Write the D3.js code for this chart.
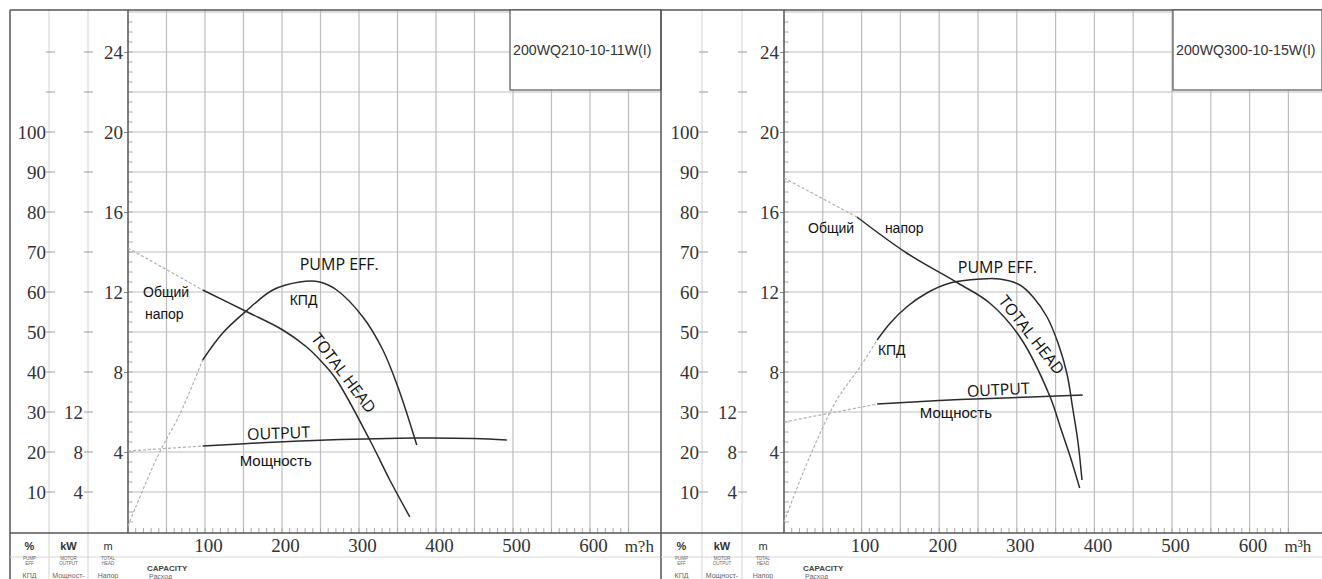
<!DOCTYPE html>
<html>
<head>
<meta charset="utf-8">
<script src="https://cdn.jsdelivr.net/npm/d3@7"></script>
<style>
  body { margin: 0; background: #fff; }
  svg { display: block; }
</style>
</head>
<body>
<script>
// axis labels
const capacityLabels = [100, 200, 300, 400, 500, 600];
const headLabels = [4, 8, 12, 16, 20, 24];
const effLabels = [10, 20, 30, 40, 50, 60, 70, 80, 90, 100];
const powerLabels = [4, 8, 12];

// 200WQ210-10-11W(I)   [Q m3/h, value]
const headDashA = [[0, 14.2], [97, 12.1]];
const headSolidA = [[97, 12.1], [155, 11.0], [201, 10.1], [232, 9.25], [253, 8.45], [271, 7.6], [314, 4.6], [340, 2.6], [366, 0.75]];
const effDashA = [[0, 1.5], [38, 18.75], [68, 29.75], [97, 43]];
const effSolidA = [[97, 43], [123, 49.75], [155, 55.5], [188, 60.5], [223, 62.5], [249, 62.5], [271, 60.5], [305, 53.75], [331, 45.5], [351, 36], [375, 21.75]];
const powerDashA = [[0, 8.1], [97, 8.6]];
const powerSolidA = [[97, 8.6], [180, 8.95], [258, 9.2], [375, 9.4], [450, 9.35], [492, 9.2]];

// 200WQ300-10-15W(I)
const headDashB = [[0, 17.7], [94, 15.75]];
const headSolidB = [[94, 15.75], [158, 13.95], [224, 12.45], [265, 11.45], [304, 9.75], [343, 6.75], [356, 5.25], [369, 3.75], [381, 2.2]];
const effDashB = [[0, 2.5], [33, 18.75], [68, 33], [98, 41.25], [120, 48]];
const effSolidB = [[120, 48], [137, 52.25], [158, 56.25], [184, 59.75], [214, 62.25], [253, 63.25], [278, 63.25], [304, 61.75], [321, 58.75], [339, 53.75], [354, 46.75], [365, 39.25], [372, 31], [379, 22.25], [384, 13]];
const powerDashB = [[0, 11.0], [120, 12.8]];
const powerSolidB = [[120, 12.8], [200, 13.15], [265, 13.35], [385, 13.7]];

const W = 1322, H = 579;
const serif = "'Liberation Serif', 'DejaVu Serif', serif";
const sans = "'Liberation Sans', Arial, sans-serif";
const open = "'Open Sans', 'Liberation Sans', sans-serif";

// [text, Q, head(m), font, size, angle, anchor]
const notesA = [
  ["PUMP EFF.", 223, 13.1, open, 16, 0, "start"],
  ["КПД", 210, 11.35, sans, 14, 0, "start"],
  ["Общий", 19.5, 11.75, sans, 14, 0, "start"],
  ["напор", 22, 10.65, sans, 14, 0, "start"],
  ["OUTPUT", 155, 4.6, open, 16, -2, "start"],
  ["Мощность", 145, 3.3, sans, 15, 0, "start"],
  ["TOTAL HEAD", 280, 7.95, open, 16, 53, "middle"]
];
const notesB = [
  ["Общий", 31, 14.95, sans, 14, 0, "start"],
  ["напор", 130, 14.95, sans, 14, 0, "start"],
  ["PUMP EFF.", 224, 12.95, open, 16, 0, "start"],
  ["КПД", 121, 8.85, sans, 14, 0, "start"],
  ["OUTPUT", 236, 6.75, open, 16, -3, "start"],
  ["Мощность", 175, 5.7, sans, 15, 0, "start"],
  ["TOTAL HEAD", 319, 9.85, open, 16, 52, "middle"]
];

const panels = [
  { frame: 10, pctX: 49, kwX: 88, axisX: 128, k: 0.77, right: 661, boxX: 510,
    title: "200WQ210-10-11W(I)", unit: "m?h",
    head: [headDashA, headSolidA], eff: [effDashA, effSolidA], power: [powerDashA, powerSolidA], notes: notesA },
  { frame: 661, pctX: 702, kwX: 742, axisX: 784, k: 0.776, right: 1322, boxX: 1173,
    title: "200WQ300-10-15W(I)", unit: "m³h",
    head: [headDashB, headSolidB], eff: [effDashB, effSolidB], power: [powerDashB, powerSolidB], notes: notesB }
];

const svg = d3.select("body").append("svg")
    .attr("width", W)
    .attr("height", H)
    .style("background", "#fff");

const yM = d3.scaleLinear().domain([0, 26.1]).range([532, 10]);
const yPct = yM.copy().domain([0, 130.5]);
const yKW = yM.copy().domain([0, 52.2]);

panels.forEach(p => {
  const g = svg.append("g");
  const x = d3.scaleLinear().domain([0, 650]).range([p.axisX, p.axisX + 650 * p.k]);

  // column separators on the left
  g.append("g").selectAll("line").data([p.pctX, p.kwX]).join("line")
      .attr("x1", d => d).attr("x2", d => d)
      .attr("y1", 10).attr("y2", H)
      .attr("stroke", "#d2d2d2");

  // grid
  g.append("g").selectAll("line").data(d3.range(50, 651, 50)).join("line")
      .attr("x1", d => x(d)).attr("x2", d => x(d))
      .attr("y1", 10).attr("y2", 533)
      .attr("stroke", "#bdbdbd").attr("stroke-width", 1.2);
  g.append("g").selectAll("line").data(d3.range(2, 26.1, 2)).join("line")
      .attr("x1", p.axisX).attr("x2", p.right)
      .attr("y1", d => yM(d)).attr("y2", d => yM(d))
      .attr("stroke", "#bdbdbd").attr("stroke-width", 1.2);

  // minor ticks: capacity every 10, head every 0.5
  g.append("g").selectAll("line").data(d3.range(10, 651, 10)).join("line")
      .attr("x1", d => x(d)).attr("x2", d => x(d))
      .attr("y1", 533).attr("y2", 528)
      .attr("stroke", "#aaa");
  g.append("g").selectAll("line").data(d3.range(0.5, 26, 0.5)).join("line")
      .attr("x1", p.axisX).attr("x2", p.axisX + 5)
      .attr("y1", d => yM(d)).attr("y2", d => yM(d))
      .attr("stroke", "#aaa");

  // dashes in the % and kW columns
  g.append("g").selectAll("line").data(d3.range(10, 121, 10)).join("line")
      .attr("x1", p.pctX - 3).attr("x2", p.pctX + 6)
      .attr("y1", d => yPct(d)).attr("y2", d => yPct(d))
      .attr("stroke", "#999");
  g.append("g").selectAll("line").data(d3.range(4, 49, 4)).join("line")
      .attr("x1", p.kwX - 4).attr("x2", p.kwX + 5)
      .attr("y1", d => yKW(d)).attr("y2", d => yKW(d))
      .attr("stroke", "#999");

  const styleAxis = a => {
    a.select(".domain").remove();
    a.selectAll("text").attr("font-family", serif).attr("font-size", 19).attr("fill", "#333");
    a.selectAll("line").attr("stroke", "#888");
  };

  g.append("g").attr("transform", `translate(${p.axisX},0)`)
      .call(d3.axisLeft(yM).tickValues(headLabels).tickSize(4).tickPadding(1))
      .call(styleAxis);
  g.append("g").attr("transform", `translate(${p.pctX - 1},0)`)
      .call(d3.axisLeft(yPct).tickValues(effLabels).tickSize(0).tickPadding(2))
      .call(styleAxis);
  g.append("g").attr("transform", `translate(${p.kwX - 4},0)`)
      .call(d3.axisLeft(yKW).tickValues(powerLabels).tickSize(0).tickPadding(1))
      .call(styleAxis);
  g.append("g").attr("transform", `translate(3,533)`)
      .call(d3.axisBottom(x).tickValues(capacityLabels).tickSize(0).tickPadding(6))
      .call(styleAxis);

  g.append("text")
      .attr("x", x(645)).attr("y", 552)
      .attr("font-family", serif).attr("font-size", 17).attr("fill", "#333")
      .text(p.unit);

  // frame and main axes
  g.append("line").attr("x1", p.frame).attr("x2", p.right).attr("y1", 10).attr("y2", 10)
      .attr("stroke", "#555").attr("stroke-width", 1.5);
  g.append("line").attr("x1", p.frame).attr("x2", p.frame).attr("y1", 10).attr("y2", H)
      .attr("stroke", "#555").attr("stroke-width", 1.5);
  g.append("line").attr("x1", p.axisX).attr("x2", p.axisX).attr("y1", 10).attr("y2", 533)
      .attr("stroke", "#555").attr("stroke-width", 1.5);
  g.append("line").attr("x1", p.frame).attr("x2", p.right).attr("y1", 533).attr("y2", 533)
      .attr("stroke", "#555").attr("stroke-width", 1.5);
  g.append("line").attr("x1", p.frame).attr("x2", p.right).attr("y1", 557).attr("y2", 557)
      .attr("stroke", "#d6d6d6");

  // curves
  const line = ys => d3.line()
      .x(d => x(d[0]))
      .y(d => ys(d[1]))
      .curve(d3.curveCatmullRom.alpha(0.5));

  [[p.head, yM], [p.eff, yPct], [p.power, yKW]].forEach(([[dash, solid], ys]) => {
    g.append("path")
        .attr("d", line(ys)(dash))
        .attr("fill", "none")
        .attr("stroke", "#b0b0b0")
        .attr("stroke-width", 1.2)
        .attr("stroke-dasharray", "3,2");
    g.append("path")
        .attr("d", line(ys)(solid))
        .attr("fill", "none")
        .attr("stroke", "#2b2b2b")
        .attr("stroke-width", 1.5);
  });

  // curve labels
  p.notes.forEach(([t, q, h, fam, size, angle, anchor]) => {
    const tx = x(q), ty = yM(h);
    g.append("text")
        .attr("transform", `translate(${tx},${ty}) rotate(${angle})`)
        .attr("text-anchor", anchor)
        .attr("dy", anchor === "middle" ? "0.35em" : 0)
        .attr("font-family", fam)
        .attr("font-size", size)
        .attr("fill", "#111")
        .text(t);
  });

  // model box
  g.append("rect")
      .attr("x", p.boxX).attr("y", 10)
      .attr("width", p.right - p.boxX).attr("height", 80)
      .attr("fill", "#fff").attr("stroke", "#555").attr("stroke-width", 1.2);
  g.append("text")
      .attr("x", p.boxX + 3).attr("y", 55)
      .attr("font-family", sans).attr("font-size", 14.2).attr("fill", "#333")
      .text(p.title);

  // column headings under the axes
  const c1 = (p.frame + p.pctX) / 2, c2 = (p.pctX + p.kwX) / 2, c3 = (p.kwX + p.axisX) / 2;
  [["%", c1], ["kW", c2], ["m", c3]].forEach(([t, cx]) => {
    g.append("text").attr("x", cx).attr("y", 550)
        .attr("text-anchor", "middle")
        .attr("font-family", sans).attr("font-size", 11).attr("font-weight", t === "m" ? 400 : 700)
        .attr("fill", "#333").text(t);
  });
  [[["PUMP", "EFF"], c1], [["MOTOR", "OUTPUT"], c2], [["TOTAL", "HEAD"], c3]].forEach(([ts, cx]) => {
    ts.forEach((t, i) => {
      g.append("text").attr("x", cx).attr("y", 560 + i * 5)
          .attr("text-anchor", "middle")
          .attr("font-family", sans).attr("font-size", 4.5).attr("fill", "#666").text(t);
    });
  });
  [["КПД", c1], ["Мощност-", c2], ["Напор", c3]].forEach(([t, cx]) => {
    g.append("text").attr("x", cx).attr("y", 578)
        .attr("text-anchor", "middle")
        .attr("font-family", sans).attr("font-size", 7).attr("fill", "#666").text(t);
  });
  g.append("text").attr("x", p.axisX + 19).attr("y", 571)
      .attr("font-family", sans).attr("font-size", 8).attr("font-weight", 700)
      .attr("fill", "#444").text("CAPACITY");
  g.append("text").attr("x", p.axisX + 21).attr("y", 579)
      .attr("font-family", sans).attr("font-size", 7).attr("fill", "#666").text("Расход");
});
</script>
</body>
</html>
